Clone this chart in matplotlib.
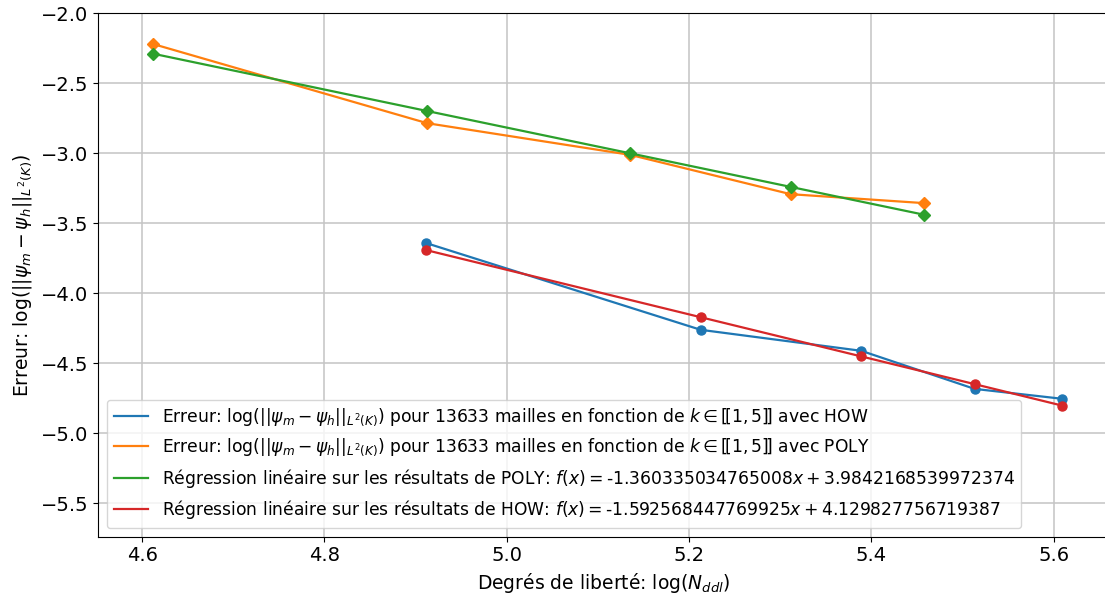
import matplotlib
matplotlib.use("Agg")
import matplotlib.pyplot as plt

# log(N_ddl) for each k
x_poly = [4.6124, 4.9127, 5.1353, 5.3113, 5.4578]
x_how = [4.9119, 5.2127, 5.3888, 5.5131, 5.6095]

# errors
err_poly = [-2.221, -2.786, -3.012, -3.293, -3.357]
err_how = [-3.643, -4.262, -4.412, -4.684, -4.755]

# linear regression values at the same points
reg_poly = [-2.290, -2.699, -3.001, -3.241, -3.440]
reg_how = [-3.693, -4.172, -4.452, -4.650, -4.804]

a_poly, b_poly = "-1.360335034765008", "3.9842168539972374"
a_how, b_how = "-1.592568447769925", "4.129827756719387"

fig = plt.figure(figsize=(11.05, 5.99), dpi=100)
ax = fig.add_axes([0.089, 0.104, 0.915, 0.874])

erreur = r"Erreur: $\log(||\psi_m - \psi_h||_{L^2(K)})$ pour 13633 mailles en fonction de $k \in [\![1, 5]\!]$ avec "

ax.plot(x_how, err_how, color="tab:blue", lw=1.6, label=erreur + "HOW")
ax.plot(x_how, err_how, "o", color="tab:blue", ms=6.5)
ax.plot(x_poly, err_poly, color="tab:orange", lw=1.6, label=erreur + "POLY")
ax.plot(x_poly, err_poly, "D", color="tab:orange", ms=6.5)
ax.plot(x_poly, reg_poly, color="tab:green", lw=1.6,
        label="Régression linéaire sur les résultats de POLY: $f(x) = $" + a_poly + "$x + $" + b_poly)
ax.plot(x_poly, reg_poly, "D", color="tab:green", ms=6.5)
ax.plot(x_how, reg_how, color="tab:red", lw=1.6,
        label="Régression linéaire sur les résultats de HOW: $f(x) = $" + a_how + "$x + $" + b_how)
ax.plot(x_how, reg_how, "o", color="tab:red", ms=6.5)

ax.set_xlim(4.552, 5.661)
ax.set_ylim(-5.74, -2.0)
ax.set_xticks([4.6, 4.8, 5.0, 5.2, 5.4, 5.6])
ax.set_yticks([-2.0, -2.5, -3.0, -3.5, -4.0, -4.5, -5.0, -5.5])
ax.tick_params(labelsize=14)
ax.grid(True, color="#c4c4c4", lw=1.1)
ax.set_axisbelow(True)

ax.set_xlabel(r"Degrés de liberté: $\log(N_{ddl})$", fontsize=13.5)
ax.set_ylabel(r"Erreur: $\log(||\psi_m - \psi_h||_{L^2(K)})$", fontsize=13.5, labelpad=5)

ax.legend(loc="lower left", fontsize=12.3)

fig.savefig("out.png", dpi=100)
